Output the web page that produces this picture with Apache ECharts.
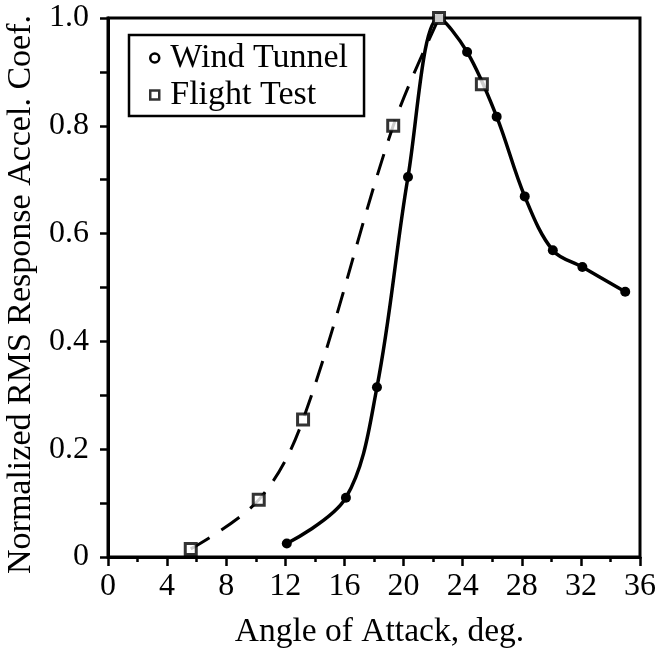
<!DOCTYPE html>
<html>
<head>
<meta charset="utf-8">
<script src="https://cdn.jsdelivr.net/npm/echarts@6/dist/echarts.min.js"></script>
<style>
    html, body { margin: 0; padding: 0; background: #fff; }
    #chart { width: 669px; height: 651px; }
</style>
</head>
<body>
<div id="chart"></div>
<script>
// Data
var windAngle = [12.1, 16.1, 18.2, 20.3, 22.4, 24.3, 26.3, 28.2, 30.1, 32.1, 35.0];
var windCoef  = [0.025, 0.11, 0.315, 0.705, 1.0, 0.937, 0.817, 0.669, 0.569, 0.538, 0.492];

var flightAngle = [5.6, 10.2, 13.2, 19.3, 22.4, 25.3];
var flightCoef  = [0.015, 0.106, 0.255, 0.80, 1.0, 0.877];

var xTicks = [0, 4, 8, 12, 16, 20, 24, 28, 32, 36];
var yTicks = [0, 0.2, 0.4, 0.6, 0.8, 1.0];

var serif = 'Liberation Serif, Times New Roman, serif';

var pairs = function (xs, ys) {
    return xs.map(function (x, i) { return [x, ys[i]]; });
};

var chart_element = document.getElementById('chart');
var chart = echarts.init(chart_element);

chart.setOption({
    animation: false,
    textStyle: {
        fontFamily: serif,
        color: '#000'
    },

    // Plot frame
    grid: {
        left: 108,
        right: 29,
        top: 18,
        bottom: 94,
        outerBoundsMode: 'none',
        show: true,
        borderColor: '#000',
        borderWidth: 3
    },

    // Legend box
    legend: {
        orient: 'vertical',
        left: 129,
        top: 35,
        padding: [6, 16, 4, 20],
        itemGap: 3,
        itemWidth: 9,
        itemHeight: 9,
        borderColor: '#000',
        borderWidth: 2.5,
        textStyle: {
            fontFamily: serif,
            fontSize: 34,
            color: '#000',
            padding: [0, 0, 0, 6]
        },
        data: [
            { name: 'Wind Tunnel', icon: 'circle', itemStyle: { color: '#fff', borderColor: '#000', borderWidth: 2.5 } },
            { name: 'Flight Test', icon: 'rect', itemStyle: { color: '#fff', borderColor: '#000', borderWidth: 2.5 } }
        ]
    },

    // Horizontal axis
    xAxis: {
        type: 'value',
        min: 0,
        max: 36,
        interval: 4,
        name: 'Angle of Attack, deg.',
        nameLocation: 'middle',
        nameGap: 58,
        nameTextStyle: { fontFamily: serif, fontSize: 33.5, color: '#000', padding: [0, 0, 0, 11] },
        axisLine: { lineStyle: { color: '#000', width: 3 } },
        axisTick: { inside: false, length: 9, lineStyle: { color: '#000', width: 2.5 } },
        minorTick: { show: true, splitNumber: 2, length: 5, lineStyle: { color: '#000', width: 2.5 } },
        axisLabel: {
            margin: 14,
            fontFamily: serif,
            fontSize: 32,
            color: '#000'
        },
        splitLine: { show: false }
    },

    // Vertical axis
    yAxis: {
        type: 'value',
        min: 0,
        max: 1,
        interval: 0.2,
        name: 'Normalized RMS Response Accel. Coef.',
        nameLocation: 'middle',
        nameGap: 59,
        nameTextStyle: { fontFamily: serif, fontSize: 34, color: '#000', padding: [0, 14, 0, 0] },
        axisLine: { lineStyle: { color: '#000', width: 3 } },
        axisTick: { inside: false, length: 8, lineStyle: { color: '#000', width: 2.5 } },
        minorTick: { show: true, splitNumber: 2, length: 8, lineStyle: { color: '#000', width: 2.5 } },
        axisLabel: {
            margin: 19,
            fontFamily: serif,
            fontSize: 32,
            color: '#000',
            formatter: function (v) {
                return v === 0 ? '0' : v.toFixed(1);
            }
        },
        splitLine: { show: false }
    },

    series: [
        {
            // dashed flight-test fairing up to the peak
            type: 'line',
            data: pairs(flightAngle.slice(0, 5), flightCoef.slice(0, 5)),
            smooth: 0.35,
            showSymbol: false,
            silent: true,
            lineStyle: { color: '#000', width: 3, type: [22, 14] },
            z: 2
        },
        {
            name: 'Wind Tunnel',
            type: 'line',
            data: pairs(windAngle, windCoef),
            smooth: 0.35,
            symbol: 'circle',
            symbolSize: 10,
            itemStyle: { color: '#000' },
            lineStyle: { color: '#000', width: 3.5 },
            z: 3
        },
        {
            name: 'Flight Test',
            type: 'scatter',
            data: pairs(flightAngle, flightCoef),
            symbol: 'rect',
            symbolSize: 11,
            itemStyle: { color: '#fff', borderColor: '#000', borderWidth: 3 },
            z: 4
        }
    ]
});
</script>
</body>
</html>
